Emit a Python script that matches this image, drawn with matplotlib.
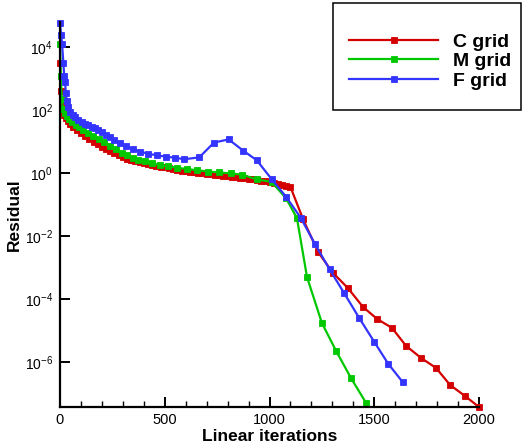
import numpy as np
import matplotlib
matplotlib.use("Agg")
import matplotlib.pyplot as plt
from matplotlib.patches import Rectangle
from matplotlib.ticker import FixedLocator, MultipleLocator

plt.rcParams['font.family'] = ['Liberation Sans', 'DejaVu Sans']
plt.rcParams['mathtext.default'] = 'regular'

# iterations and log10(residual)
c_iter = [0, 5, 10, 15, 20, 30, 40, 50, 60, 80, 100, 120, 140, 160, 180, 200,
          220, 240, 260, 280, 300, 320, 340, 360, 380, 400, 420, 440, 460, 480,
          500, 520, 540, 560, 580, 600, 620, 640, 660, 680, 700, 720, 740, 760,
          780, 800, 820, 840, 860, 880, 900, 920, 940, 960, 980, 1000, 1020,
          1040, 1060, 1080, 1100, 1160, 1232, 1303, 1374, 1446, 1513, 1585,
          1652, 1723, 1795, 1862, 1933, 2000]
c_logres = [3.5, 2.6, 2.15, 1.95, 1.85, 1.75, 1.66, 1.57, 1.48, 1.38, 1.28, 1.18,
            1.08, 1.0, 0.92, 0.84, 0.77, 0.7, 0.63, 0.56, 0.5, 0.46, 0.42, 0.38,
            0.35, 0.32, 0.29, 0.26, 0.23, 0.2, 0.18, 0.15, 0.13, 0.1, 0.08, 0.06,
            0.04, 0.02, 0.0, -0.01, -0.03, -0.04, -0.06, -0.07, -0.09, -0.1,
            -0.12, -0.13, -0.15, -0.16, -0.18, -0.2, -0.22, -0.24, -0.26, -0.28,
            -0.31, -0.35, -0.39, -0.42, -0.44, -1.46, -2.51, -3.17, -3.65, -4.25,
            -4.63, -4.92, -5.49, -5.87, -6.19, -6.73, -7.08, -7.43]

m_iter = [0, 4, 8, 14, 22, 32, 44, 58, 74, 92, 112, 134, 158, 184, 210, 238, 266,
          294, 318, 347, 374, 406, 441, 477, 517, 560, 605, 655, 708, 760, 815,
          869, 940, 1010, 1079, 1131, 1179, 1250, 1318, 1389, 1461]
m_logres = [4.1, 3.1, 2.35, 2.05, 1.9, 1.8, 1.72, 1.62, 1.53, 1.45, 1.38, 1.28,
            1.18, 1.08, 0.98, 0.87, 0.75, 0.64, 0.56, 0.49, 0.43, 0.37, 0.31,
            0.26, 0.21, 0.17, 0.13, 0.09, 0.05, 0.02, -0.01, -0.05, -0.2, -0.28,
            -0.8, -1.43, -3.3, -4.76, -5.65, -6.51, -7.3]

f_iter = [0, 5, 10, 16, 20, 24, 28, 32, 40, 48, 60, 72, 87, 103, 119, 135, 151,
          167, 183, 199, 220, 240, 260, 286, 313, 347, 382, 422, 461, 504, 549,
          593, 665, 735, 805, 875, 939, 1010, 1079, 1149, 1217, 1287, 1357, 1427,
          1499, 1567, 1636]
f_logres = [4.78, 4.4, 4.1, 3.5, 3.1, 2.9, 2.55, 2.3, 2.1, 1.95, 1.86, 1.79,
            1.7, 1.63, 1.57, 1.52, 1.48, 1.44, 1.37, 1.31, 1.22, 1.14, 1.06,
            0.97, 0.87, 0.76, 0.68, 0.61, 0.57, 0.52, 0.49, 0.44, 0.5, 0.97,
            1.07, 0.71, 0.41, -0.19, -0.75, -1.42, -2.25, -3.06, -3.82, -4.59,
            -5.35, -6.06, -6.64]

labels = ['C grid', 'M grid', 'F grid']
colors = ['#D40000', '#00C800', '#3434FF']

fig = plt.figure(figsize=(5.24, 4.46), dpi=100)
ax = fig.add_axes([60/524, 1-407/446, (479-60)/524, (407-22)/446])

series = [(c_iter, c_logres), (m_iter, m_logres), (f_iter, f_logres)]
for (xs, ls), lab, col in zip(series, labels, colors):
    ax.plot(xs, 10**np.array(ls), color=col, lw=1.6, marker='s', ms=4.5,
            mec=col, mfc=col, mew=0.6, label=lab, clip_on=False)

ax.set_yscale('log')
ax.set_xlim(0, 2000)
ax.set_ylim(10**-7.43, 10**4.8)

ax.spines['top'].set_visible(False)
ax.spines['right'].set_visible(False)
ax.spines['left'].set_linewidth(1.6)
ax.spines['bottom'].set_linewidth(1.6)

ax.xaxis.set_major_locator(FixedLocator([0, 500, 1000, 1500, 2000]))
ax.xaxis.set_minor_locator(MultipleLocator(100))
yt = [1e-6, 1e-4, 1e-2, 1e0, 1e2, 1e4]
ax.yaxis.set_major_locator(FixedLocator(yt))
ax.yaxis.set_minor_locator(FixedLocator([]))
ax.set_yticklabels(['10$^{-6}$', '10$^{-4}$', '10$^{-2}$', '10$^{0}$', '10$^{2}$', '10$^{4}$'])

ax.tick_params(axis='both', which='major', direction='in', length=7, width=1.4,
               labelsize=10.5, colors='black')
ax.tick_params(axis='x', which='minor', direction='in', length=4, width=1.0)
ax.tick_params(axis='x', which='major', pad=4)
ax.tick_params(axis='y', which='major', pad=5, labelsize=10)

ax.set_xlabel('Linear iterations', fontsize=12.5, fontweight='bold', labelpad=2)
ax.set_ylabel('Residual', fontsize=12.5, fontweight='bold')
ax.yaxis.set_label_coords(-0.09, 0.5)

# legend box drawn separately, entries placed inside it
fig.patches.append(Rectangle((333/524, 1-110/446), 188/524, 107/446,
                             transform=fig.transFigure, fill=False,
                             ec='black', lw=1.1))
leg = ax.legend(loc='center', bbox_to_anchor=(430/524, 1-61.5/446),
                bbox_transform=fig.transFigure, frameon=False, numpoints=1,
                handlelength=4.6, handletextpad=0.75, labelspacing=0.1,
                borderpad=0, prop={'weight': 'bold', 'size': 14})
for t in leg.get_texts():
    t.set_color('black')

fig.savefig('out.png', dpi=100)
